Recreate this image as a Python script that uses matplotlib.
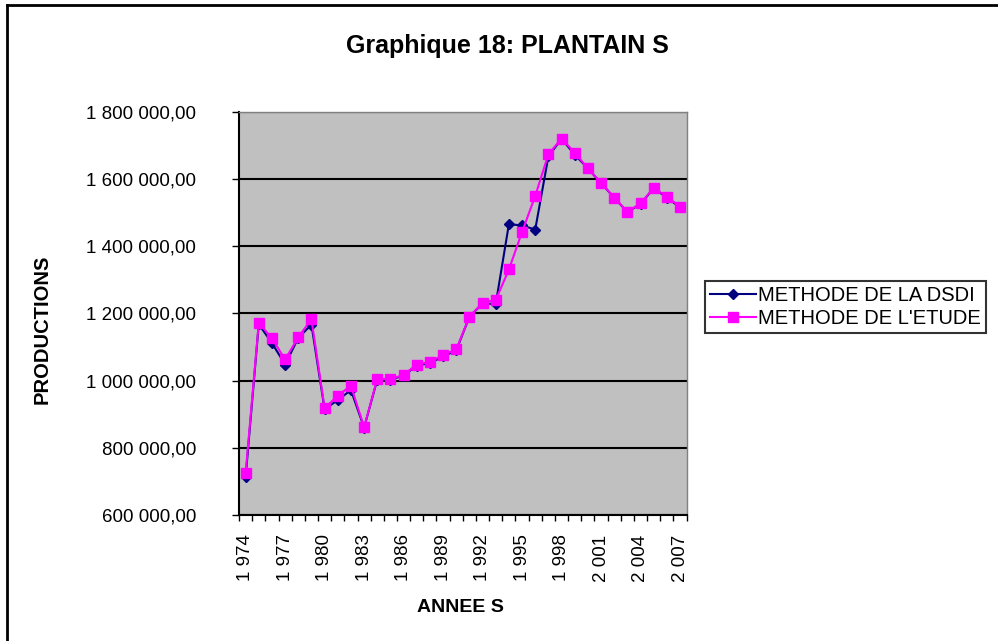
import matplotlib
matplotlib.use("Agg")
import matplotlib.pyplot as plt
from matplotlib.lines import Line2D
from matplotlib.ticker import FuncFormatter, FixedLocator

plt.rcParams['font.family'] = ['Liberation Sans', 'DejaVu Sans']

years = list(range(1974, 2008))
dsdi = [712000, 1168000, 1112000, 1048000, 1127000, 1167000, 915000, 942000, 972000, 860000,
        1003000, 1003000, 1015000, 1045000, 1052000, 1072000, 1090000, 1190000, 1230000, 1228000,
        1466000, 1462000, 1450000, 1668000, 1720000, 1673000, 1632000, 1588000, 1545000, 1502000,
        1526000, 1573000, 1545000, 1516000]
etude = [724000, 1172000, 1126000, 1063000, 1129000, 1183000, 918000, 955000, 985000, 861000,
         1005000, 1005000, 1017000, 1048000, 1056000, 1076000, 1093000, 1190000, 1232000, 1240000,
         1331000, 1443000, 1550000, 1674000, 1721000, 1679000, 1632000, 1589000, 1545000, 1503000,
         1528000, 1574000, 1548000, 1518000]
series_names = ["METHODE DE LA DSDI", "METHODE DE L'ETUDE"]
y_ticks = [600000, 800000, 1000000, 1200000, 1400000, 1600000, 1800000]

fig = plt.figure(figsize=(9.98, 6.41), dpi=100)
ax = fig.add_axes([0.2395, 0.1966, 0.4485, 0.6287])
ax.set_facecolor('#C0C0C0')

xs = list(range(len(years)))
ax.plot(xs, dsdi, color='#000080', lw=1.5, marker='D', ms=5, mfc='#000080', mec='#000080', zorder=3)
ax.plot(xs, etude, color='#FF00FF', lw=1.5, marker='s', ms=7.5, mfc='#FF00FF', mec='#FF00FF', zorder=4)

ax.set_xlim(-0.5, len(years) - 0.5)
ax.set_ylim(y_ticks[0], y_ticks[-1])

ax.set_yticks(y_ticks)
ax.yaxis.set_major_formatter(FuncFormatter(lambda v, p: f"{int(v):,}".replace(",", " ") + ",00"))
ax.yaxis.grid(True, color='black', lw=1.5)
ax.set_axisbelow(True)
ax.tick_params(axis='y', length=5, width=1, labelsize=13.5, pad=26, color='black')

ax.xaxis.set_major_locator(FixedLocator([i - 0.5 for i in range(len(years) + 1)]))
ax.xaxis.set_major_formatter(FuncFormatter(lambda v, p: ""))
ax.xaxis.set_minor_locator(FixedLocator(xs[::3]))
ax.xaxis.set_minor_formatter(FuncFormatter(lambda v, p: f"{years[int(round(v))]:,}".replace(",", " ")))
ax.tick_params(axis='x', which='major', length=4, width=1, color='black')
ax.tick_params(axis='x', which='minor', length=0, labelsize=13.5, labelrotation=90, pad=14)

for s in ['left', 'bottom']:
    ax.spines[s].set_color('black')
    ax.spines[s].set_linewidth(1.5)
for s in ['top', 'right']:
    ax.spines[s].set_color('#808080')
    ax.spines[s].set_linewidth(1)

fig.text(0.508, 0.929, "Graphique 18: PLANTAIN S", ha='center', va='center', fontsize=18, fontweight='bold')
fig.text(0.042, 0.487, "PRODUCTIONS", ha='center', va='center', rotation=90, fontsize=14.5, fontweight='bold')
fig.text(0.461, 0.053, "ANNEE S", ha='center', va='center', fontsize=14, fontweight='bold')

handles = [Line2D([], [], color='#000080', lw=1.5, marker='D', ms=5),
           Line2D([], [], color='#FF00FF', lw=1.5, marker='s', ms=7.5)]
leg = fig.legend(handles, series_names, loc='upper left', bbox_to_anchor=(0.706, 0.562),
                 fontsize=14.5, frameon=True, fancybox=False, edgecolor='black',
                 handlelength=2.3, handletextpad=0.1, borderpad=0.25, labelspacing=0.2,
                 borderaxespad=0)
leg.get_frame().set_linewidth(1.5)

fig.add_artist(Line2D([0.0075, 0.0075], [0, 0.992], color='black', lw=2, transform=fig.transFigure))
fig.add_artist(Line2D([0.0075, 1], [0.992, 0.992], color='black', lw=2, transform=fig.transFigure))

fig.savefig("out.png", dpi=100)
